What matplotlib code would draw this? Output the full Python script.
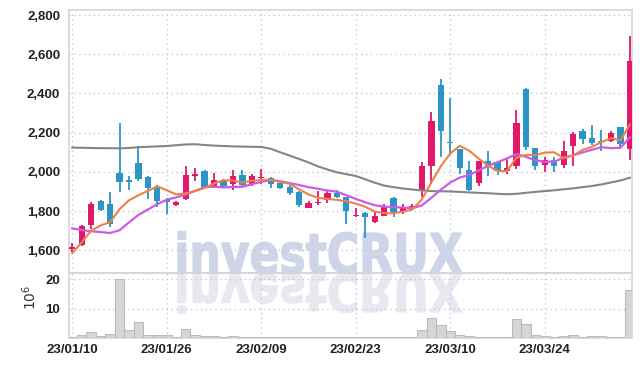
import matplotlib
matplotlib.use("Agg")
import matplotlib.pyplot as plt
import matplotlib.transforms as mtrans
from matplotlib.textpath import TextPath
from matplotlib.patches import PathPatch
from matplotlib.font_manager import FontProperties

# daily candles (index = trading day)
dates = ["23/01/10", "23/01/26", "23/02/09", "23/02/23", "23/03/10", "23/03/24"]
date_pos = [0, 10, 20, 30, 40, 50]

opens = [1605, 1625, 1730, 1851, 1837, 1993, 1957, 2044, 1976, 1925,
         1858, 1830, 1861, 1978, 2002, 1927, 1960, 1937, 1982, 1940,
         1967, 1970, 1943, 1923, 1898, 1818, 1840, 1857, 1890, 1870,
         1773, 1791, 1742, 1776, 1867, 1795, 1815, 1904, 2030, 2443,
         2152, 2115, 2012, 1942, 2058, 2050, 2003, 2029, 2424, 2120,
         2036, 2063, 2036, 2133, 2207, 2171, 2160, 2157, 2227, 2118]
highs = [1638, 1730, 1847, 1856, 1895, 2251, 1980, 2134, 1980, 1935,
         1868, 1850, 2032, 2020, 2010, 1995, 1965, 2010, 2010, 1990,
         2015, 1972, 1948, 1931, 1900, 1853, 1902, 1902, 1910, 1870,
         1815, 1793, 1793, 1835, 1870, 1838, 1836, 2050, 2306, 2472,
         2375, 2115, 2053, 2058, 2109, 2055, 2067, 2318, 2429, 2120,
         2075, 2075, 2156, 2203, 2217, 2241, 2212, 2210, 2227, 2694]
lows = [1590, 1620, 1710, 1800, 1719, 1897, 1905, 1953, 1863, 1820,
        1786, 1825, 1858, 1953, 1920, 1920, 1920, 1910, 1930, 1930,
        1940, 1920, 1915, 1880, 1820, 1815, 1832, 1843, 1865, 1733,
        1770, 1665, 1738, 1773, 1768, 1785, 1808, 1870, 1938, 2075,
        2085, 1990, 1904, 1930, 1981, 1983, 1990, 2015, 2114, 2010,
        2000, 2000, 2019, 2029, 2140, 2138, 2104, 2150, 2118, 2062]
closes = [1615, 1722, 1837, 1807, 1735, 1947, 1950, 1964, 1919, 1851,
          1848, 1844, 1986, 1988, 1925, 1960, 1928, 1977, 1935, 1977,
          1973, 1937, 1920, 1893, 1833, 1843, 1848, 1893, 1870, 1798,
          1781, 1768, 1773, 1827, 1795, 1822, 1824, 2032, 2260, 2208,
          2148, 2019, 1905, 2058, 2032, 2005, 2022, 2248, 2125, 2031,
          2063, 2031, 2104, 2193, 2168, 2145, 2152, 2200, 2140, 2566]

ma5 = [1585, 1640, 1700, 1727, 1743, 1810, 1855, 1881, 1903, 1926,
       1906, 1885, 1890, 1903, 1918, 1941, 1957, 1956, 1945, 1955,
       1958, 1960, 1948, 1940, 1911, 1885, 1867, 1862, 1857, 1850,
       1838, 1822, 1798, 1789, 1789, 1797, 1808, 1860, 1947, 2029,
       2094, 2133, 2108, 2068, 2032, 2004, 2004, 2073, 2086, 2086,
       2098, 2100, 2071, 2084, 2112, 2128, 2152, 2172, 2161, 2241]
ma10 = [1712, 1703, 1697, 1693, 1688, 1702, 1742, 1780, 1808, 1835,
        1858, 1870, 1885, 1903, 1922, 1924, 1921, 1923, 1924, 1937,
        1949, 1959, 1952, 1943, 1933, 1922, 1914, 1905, 1899, 1881,
        1862, 1845, 1830, 1823, 1820, 1818, 1815, 1829, 1868, 1909,
        1946, 1971, 1984, 2007, 2031, 2049, 2069, 2091, 2077, 2059,
        2051, 2052, 2072, 2085, 2099, 2113, 2126, 2121, 2123, 2176]
ma60 = [2124, 2123, 2122, 2121, 2121, 2120, 2122, 2126, 2128, 2130,
        2132, 2136, 2140, 2141, 2137, 2134, 2132, 2130, 2129, 2128,
        2127, 2118, 2100, 2083, 2066, 2048, 2028, 2012, 1998, 1988,
        1979, 1962, 1945, 1930, 1922, 1915, 1910, 1905, 1902, 1901,
        1900, 1898, 1895, 1893, 1891, 1888, 1886, 1888, 1893, 1898,
        1902, 1906, 1911, 1916, 1922, 1928, 1936, 1946, 1956, 1970]

# volume in 10^6 shares
volume = [0.55, 1.0, 2.0, 0.8, 1.35, 20.1, 2.7, 5.4, 1.1, 1.1,
          1.1, 0.35, 3.05, 1.0, 0.8, 0.7, 0.4, 0.7, 0.6, 0.4,
          0.5, 0.4, 0.3, 0.5, 0.4, 0.3, 0.4, 0.5, 0.3, 0.5,
          0.3, 0.4, 0.3, 0.4, 0.4, 0.3, 0.3, 2.7, 6.8, 4.5,
          2.5, 1.1, 0.8, 0.4, 0.3, 0.3, 0.3, 6.4, 4.8, 1.1,
          0.8, 0.35, 0.8, 1.1, 0.35, 0.7, 0.7, 0.35, 0.35, 16.4]

UP = "#e2186a"
DOWN = "#2b95c8"
GRID = "#c5c8da"
SPINE = "#d4d4dc"

tick_font = FontProperties(family=["Liberation Sans", "DejaVu Sans"], weight="bold", size=9.5)

fig = plt.figure(figsize=(6.42, 3.67), dpi=100)
ax = fig.add_axes([68.5 / 642, 94 / 367, 563.8 / 642, 263 / 367])
axv = fig.add_axes([68.5 / 642, 28.7 / 367, 563.8 / 642, 65.3 / 367], sharex=ax)
for a in (ax, axv):
    a.set_facecolor("none")
    for s in a.spines.values():
        s.set_color(SPINE)
        s.set_linewidth(1.2)

# watermark + reflection, in pixel coords
wm = TextPath((0, 0), "investCRUX", size=100, prop=FontProperties(family="DejaVu Sans", weight="bold"))
ext = wm.get_extents()
sx = (462 - 178) / (ext.x1 - ext.x0)
sy = 40 / 73.0
tr = mtrans.Affine2D().translate(-ext.x0, 0).scale(sx, sy).translate(178, 94)
fig.add_artist(PathPatch(wm, transform=tr, facecolor="#cfd5e8", edgecolor="#cfd5e8", linewidth=1.0, zorder=-2))
tr2 = mtrans.Affine2D().translate(-ext.x0, 0).scale(sx, -sy * 0.95).translate(178, 93)
fig.add_artist(PathPatch(wm, transform=tr2, facecolor="#e8e9f0", edgecolor="#e8e9f0", linewidth=1.0, zorder=-2))

x = list(range(len(closes)))
cols = [UP if c >= o else DOWN for o, c in zip(opens, closes)]
bottoms = [min(o, c) for o, c in zip(opens, closes)]
heights = [max(abs(c - o), 4) for o, c in zip(opens, closes)]

ax.vlines(x, lows, highs, colors=cols, linewidth=1.3, zorder=3)
ax.bar(x, heights, bottom=bottoms, width=0.66, color=cols, zorder=4)
ax.plot(x, ma60, color="#858585", lw=1.5, zorder=5)
ax.plot(x, ma10, color="#cc5ce8", lw=1.6, zorder=5)
ax.plot(x, ma5, color="#ef8048", lw=1.5, zorder=6)

axv.bar(x, volume, width=1.0, color="#d6d6d8", edgecolor="#bcbcc0", linewidth=0.8, zorder=3)

ax.set_xlim(-0.4, 59.26)
ax.set_ylim(1484, 2826)
ax.set_yticks([1600, 1800, 2000, 2200, 2400, 2600, 2800])
ax.set_yticklabels(["{:,}".format(v) for v in [1600, 1800, 2000, 2200, 2400, 2600, 2800]])
axv.set_ylim(0, 22.1)
axv.set_yticks([10, 20])
axv.set_xticks(date_pos)
axv.set_xticklabels(dates)

for a in (ax, axv):
    a.grid(True, color=GRID, linestyle=(0, (1, 2.5)), linewidth=1.0, zorder=0)
    a.set_axisbelow(True)
    a.tick_params(length=0, pad=6)
    for lbl in a.get_yticklabels() + a.get_xticklabels():
        lbl.set_fontproperties(tick_font)
        lbl.set_color("#222222")
ax.tick_params(labelbottom=False)
axv.tick_params(axis="x", pad=4)

axv.set_ylabel("$10^6$", fontsize=10, color="#333333")
axv.yaxis.set_label_coords(-0.053, 0.62)

fig.savefig("out.png", dpi=100)
